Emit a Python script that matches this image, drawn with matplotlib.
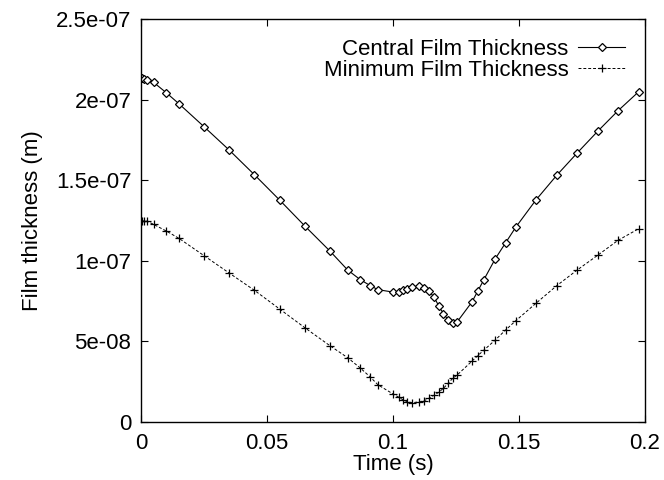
import matplotlib
matplotlib.use("Agg")
import matplotlib.pyplot as plt
from matplotlib.ticker import FixedLocator, FixedFormatter

plt.rcParams['font.family'] = ['Liberation Sans', 'DejaVu Sans']

time_s = [0, 0.0005, 0.001, 0.0025, 0.005, 0.01, 0.015, 0.025, 0.035, 0.045,
          0.055, 0.065, 0.075, 0.082, 0.087, 0.091, 0.094, 0.1, 0.1024, 0.1041,
          0.1057, 0.1074, 0.1104, 0.1124, 0.1143, 0.1163, 0.1181, 0.12, 0.1219,
          0.1237, 0.1255, 0.1313, 0.1336, 0.136, 0.1406, 0.1447, 0.1487, 0.1567,
          0.165, 0.1731, 0.1812, 0.1893, 0.1975]

central_e7 = [2.136, 2.134, 2.130, 2.124, 2.107, 2.043, 1.975, 1.832, 1.687, 1.534,
              1.377, 1.216, 1.060, 0.943, 0.883, 0.846, 0.821, 0.806, 0.808, 0.817,
              0.827, 0.837, 0.844, 0.833, 0.812, 0.774, 0.722, 0.672, 0.633,
              0.616, 0.622, 0.744, 0.811, 0.881, 1.013, 1.112, 1.208, 1.377,
              1.531, 1.669, 1.803, 1.931, 2.049]

minimum_e7 = [1.249, 1.248, 1.247, 1.245, 1.226, 1.185, 1.140, 1.032, 0.924, 0.817,
              0.701, 0.585, 0.473, 0.399, 0.335, 0.279, 0.231, 0.174, 0.153, 0.136,
              0.126, 0.120, 0.124, 0.132, 0.147, 0.166, 0.184, 0.209, 0.240,
              0.271, 0.292, 0.377, 0.411, 0.445, 0.509, 0.571, 0.628, 0.736,
              0.846, 0.943, 1.034, 1.127, 1.199]

x_ticks = [0, 0.05, 0.1, 0.15, 0.2]
x_tick_labels = ['0', '0.05', '0.1', '0.15', '0.2']
y_ticks = [0, 5e-8, 1e-7, 1.5e-7, 2e-7, 2.5e-7]
y_tick_labels = ['0', '5e-08', '1e-07', '1.5e-07', '2e-07', '2.5e-07']

central = [v * 1e-7 for v in central_e7]
minimum = [v * 1e-7 for v in minimum_e7]

FS = 16

fig = plt.figure(figsize=(6.64, 4.8), dpi=100)
ax = fig.add_axes([141/664, 1 - 422/480, (645 - 141)/664, (422 - 19)/480])

ax.plot(time_s, central, color='black', lw=0.8, marker='D', ms=4.2,
        mfc='white', mec='black', mew=0.9, label='Central Film Thickness')
ax.plot(time_s, minimum, color='black', lw=0.7, ls=(0, (3, 2)), marker='+',
        ms=6, mew=0.9, label='Minimum Film Thickness')

ax.set_xlim(0, 0.2)
ax.set_ylim(0, 2.5e-7)
ax.xaxis.set_major_locator(FixedLocator(x_ticks))
ax.xaxis.set_major_formatter(FixedFormatter(x_tick_labels))
ax.yaxis.set_major_locator(FixedLocator(y_ticks))
ax.yaxis.set_major_formatter(FixedFormatter(y_tick_labels))
ax.tick_params(direction='in', top=True, right=True, length=5, width=0.8,
               labelsize=FS)
ax.tick_params(axis='x', pad=8)
ax.tick_params(axis='y', pad=7)
for s in ax.spines.values():
    s.set_linewidth(1.0)

ax.set_xlabel('Time (s)', fontsize=FS, labelpad=0)
ax.set_ylabel('Film thickness (m)', fontsize=FS, labelpad=9)

leg = ax.legend(loc='upper right', frameon=False, markerfirst=False,
                fontsize=FS, handlelength=2.1, handletextpad=0.45,
                labelspacing=0.0, borderaxespad=0.5, numpoints=1)

fig.savefig('out.png', dpi=100)
